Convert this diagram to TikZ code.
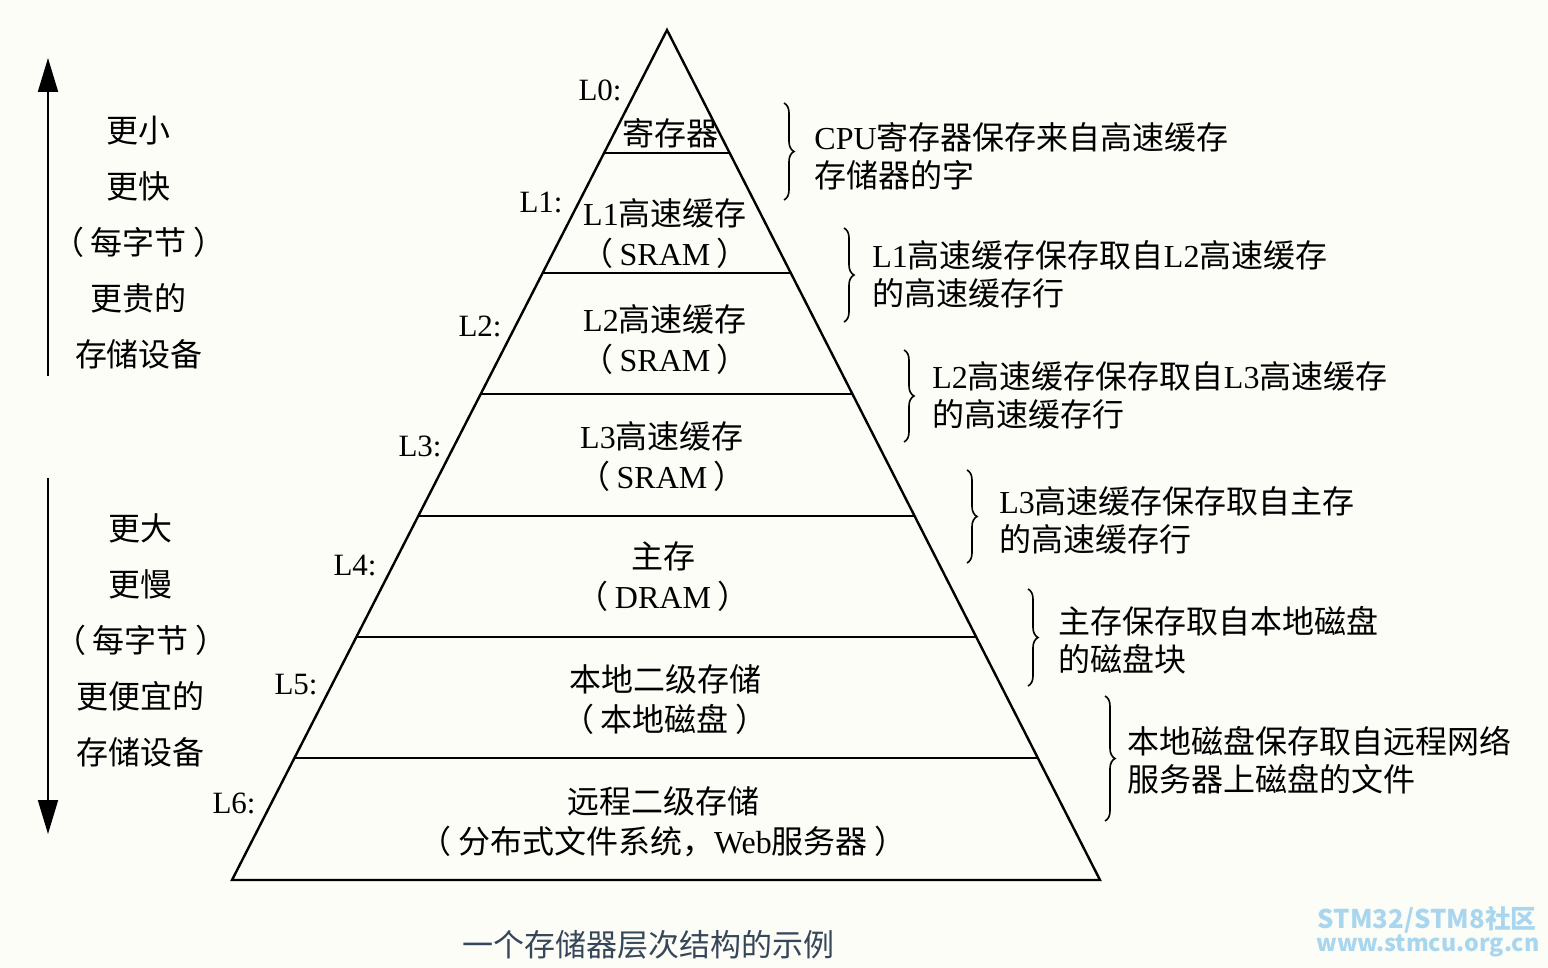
\documentclass[tikz,border=0pt]{standalone}
\usepackage{fontspec}
\setmainfont{Noto Sans CJK SC}
\newfontfamily\tm{Liberation Serif}
\usetikzlibrary{arrows.meta,decorations.pathreplacing,calc}
\definecolor{bgc}{HTML}{FDFDF8}
\definecolor{capc}{HTML}{36475A}
\definecolor{wmc}{HTML}{A8D6EF}
\newcommand\lp{（\hspace{0.2em}}
\newcommand\rp{\hspace{0.2em}）}
\tikzset{
  pyr/.style={line width=1.2pt},
  lvl/.style={font=\tm\fontsize{15.5}{19}\selectfont, anchor=east, inner sep=0pt},
  inner/.style={font=\fontsize{16}{20}\selectfont, align=center, inner sep=0pt},
  note/.style={font=\fontsize{16}{19}\selectfont, align=left, anchor=west, inner sep=0pt},
  side/.style={font=\fontsize{16}{28}\selectfont, align=center, inner sep=0pt},
  br/.style={decorate, decoration={brace, amplitude=5pt}, line width=0.8pt},
  bigarrow/.style={line width=1pt, -{Triangle[length=17pt,width=10pt]}}
}
\begin{document}
\begin{tikzpicture}[x=0.5pt,y=-0.5pt]
\fill[bgc] (0,0) rectangle (1548,968);
\useasboundingbox (0,0) rectangle (1548,968);

% pyramid
\coordinate (apex) at (667,30);
\coordinate (bl) at (232,880);
\coordinate (br) at (1100,880);
\draw[pyr, line join=miter] (bl) -- (apex) -- (br) -- cycle;
\foreach \yy in {153,273,394,516,637,758}{
  \draw[pyr] ($(apex)!{(\yy-30)/850}!(bl)$) -- ($(apex)!{(\yy-30)/850}!(br)$);
}

% level labels
\node[lvl] (l0) at (622,90) {L0:};
\node[lvl] (l1) at (563,202) {L1:};
\node[lvl] (l2) at (502,326) {L2:};
\node[lvl] (l3) at (442,446) {L3:};
\node[lvl] (l4) at (377,566) {L4:};
\node[lvl] (l5) at (318,685) {L5:};
\node[lvl] (l6) at (256,803) {L6:};

% inner texts
\node[inner] (t0) at (670,133) {寄存器};
\node[inner] (t1) at (665,234) {{\tm L1}高速缓存\\\lp{\tm SRAM}\rp};
\node[inner] (t2) at (665,340) {{\tm L2}高速缓存\\\lp{\tm SRAM}\rp};
\node[inner] (t3) at (662,457) {{\tm L3}高速缓存\\\lp{\tm SRAM}\rp};
\node[inner] (t4) at (663,577) {主存\\\lp{\tm DRAM}\rp};
\node[inner] (t5) at (665,700) {本地二级存储\\\lp 本地磁盘\rp};
\node[inner] (t6) at (663,822) {远程二级存储\\\lp 分布式文件系统，{\tm Web}服务器\rp};

% braces
\coordinate (b1a) at (784,103);  \coordinate (b1b) at (784,200);
\coordinate (b2a) at (844,228);  \coordinate (b2b) at (844,322);
\coordinate (b3a) at (904,350);  \coordinate (b3b) at (904,442);
\coordinate (b4a) at (967,470);  \coordinate (b4b) at (967,563);
\coordinate (b5a) at (1028,589); \coordinate (b5b) at (1028,686);
\coordinate (b6a) at (1105,696); \coordinate (b6b) at (1105,821);
\draw[br] (b1a) -- (b1b);
\draw[br] (b2a) -- (b2b);
\draw[br] (b3a) -- (b3b);
\draw[br] (b4a) -- (b4b);
\draw[br] (b5a) -- (b5b);
\draw[br] (b6a) -- (b6b);

% notes
\node[note] (n1) at (814,156) {{\tm CPU}寄存器保存来自高速缓存\\存储器的字};
\node[note] (n2) at (872,274) {{\tm L1}高速缓存保存取自{\tm L2}高速缓存\\的高速缓存行};
\node[note] (n3) at (932,395) {{\tm L2}高速缓存保存取自{\tm L3}高速缓存\\的高速缓存行};
\node[note] (n4) at (999,520) {{\tm L3}高速缓存保存取自主存\\的高速缓存行};
\node[note] (n5) at (1058,640) {主存保存取自本地磁盘\\的磁盘块};
\node[note] (n6) at (1127,760) {本地磁盘保存取自远程网络\\服务器上磁盘的文件};

% side arrows
\coordinate (a1s) at (48,376); \coordinate (a1e) at (48,58);
\coordinate (a2s) at (48,478); \coordinate (a2e) at (48,834);
\draw[bigarrow] (a1s) -- (a1e);
\draw[bigarrow] (a2s) -- (a2e);
\node[side] (s1) at (139,243) {更小\\更快\\\lp 每字节\rp\\更贵的\\存储设备};
\node[side] (s2) at (141,640) {更大\\更慢\\\lp 每字节\rp\\更便宜的\\存储设备};

% caption
\node[font=\fontsize{15.5}{19}\selectfont, text=capc, inner sep=0pt] (cap) at (648,945) {一个存储器层次结构的示例};

% watermark
\node[font=\bfseries\fontsize{12.9}{13}\selectfont, text=wmc, inner sep=0pt, anchor=east] (wm1) at (1537,920) {STM32/STM8社区};
\node[font=\bfseries\fontsize{11.6}{12}\selectfont, text=wmc, inner sep=0pt, anchor=east] (wm2) at (1540,946) {www.stmcu.org.cn};
\end{tikzpicture}
\end{document}
